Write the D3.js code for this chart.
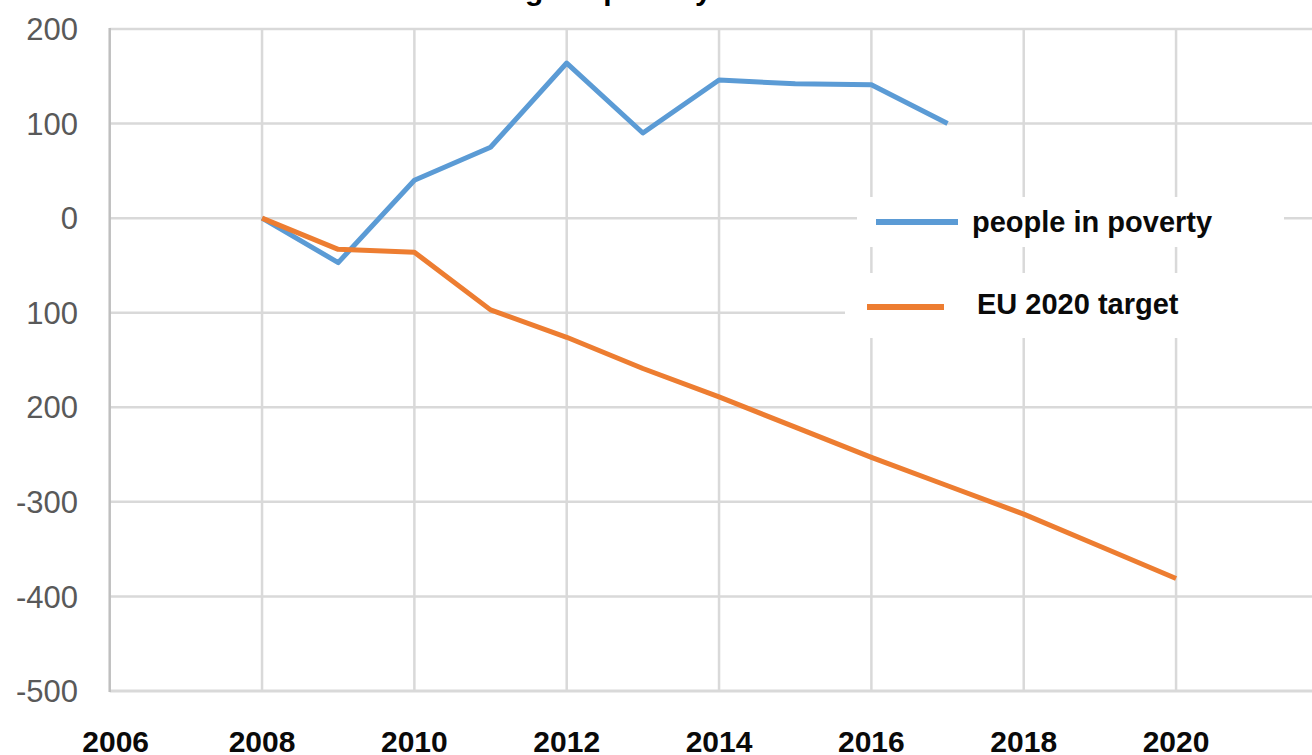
<!DOCTYPE html>
<html>
<head>
<meta charset="utf-8">
<script src="https://cdn.jsdelivr.net/npm/d3@7"></script>
<style>
  html, body { margin: 0; padding: 0; background: #fff; overflow: hidden; }
  svg { display: block; font-family: "Liberation Sans", Arial, sans-serif; }
</style>
</head>
<body>
<svg id="chart"></svg>
<script>
// values (thousands, change vs 2008)
var povertyYears = [2008, 2009, 2010, 2011, 2012, 2013, 2014, 2015, 2016, 2017]
var povertyValues = [0, -47, 40, 75, 164, 90, 146, 142, 141, 100]

var targetYears = [2008, 2009, 2010, 2011, 2012, 2013, 2014, 2015, 2016, 2017, 2018, 2019, 2020]
var targetValues = [0, -33, -36, -97, -126, -159, -189, -221, -253, -283, -313, -347, -381]

var xTicks = [2006, 2008, 2010, 2012, 2014, 2016, 2018, 2020]
var yTicks = [200, 100, 0, -100, -200, -300, -400, -500]
// the minus sign is lost on two of the labels in the original
var yTickLabels = ["200", "100", "0", "100", "200", "-300", "-400", "-500"]

var seriesNames = ["people in poverty", "EU 2020 target"]
var seriesColors = ["#5B9BD5", "#ED7D31"]
var titleText = "Change in poverty"

var width = 1312, height = 755

var svg = d3.select("#chart")
    .attr("width", width)
    .attr("height", height)

// plot area runs past the right edge of the picture (to 2022)
var x = d3.scaleLinear().domain([2006, 2022]).range([109.7, 1328.4])
var y = d3.scaleLinear().domain([-500, 200]).range([691, 29])

// title, cut off at the top
svg.append("text")
    .attr("x", 450)
    .attr("y", 0)
    .style("font-size", "30px")
    .style("font-weight", "bold")
    .style("fill", "#000")
    .text(titleText)

// gridlines
svg.append("g")
    .selectAll("line")
    .data(yTicks.filter(function(d) { return d !== -500 }))
    .enter().append("line")
    .attr("x1", x(2006)).attr("x2", width)
    .attr("y1", function(d) { return y(d) })
    .attr("y2", function(d) { return y(d) })
    .style("stroke", "#D9D9D9")
    .style("stroke-width", 2.5)

svg.append("g")
    .selectAll("line")
    .data(xTicks.filter(function(d) { return d !== 2006 }))
    .enter().append("line")
    .attr("x1", function(d) { return x(d) })
    .attr("x2", function(d) { return x(d) })
    .attr("y1", y(200)).attr("y2", y(-500))
    .style("stroke", "#D9D9D9")
    .style("stroke-width", 2.5)

// axes lines
svg.append("line")
    .attr("x1", x(2006)).attr("x2", width)
    .attr("y1", y(-500)).attr("y2", y(-500))
    .style("stroke", "#D9D9D9")
    .style("stroke-width", 3)

svg.append("line")
    .attr("x1", x(2006)).attr("x2", x(2006))
    .attr("y1", y(200) - 1).attr("y2", y(-500) + 1)
    .style("stroke", "#BFBFBF")
    .style("stroke-width", 2.5)

// tick labels
svg.append("g")
    .selectAll("text")
    .data(yTicks)
    .enter().append("text")
    .attr("x", 78)
    .attr("y", function(d) { return y(d) })
    .attr("dy", "0.36em")
    .attr("text-anchor", "end")
    .style("font-size", "31px")
    .style("fill", "#595959")
    .text(function(d, i) { return yTickLabels[i] })

svg.append("g")
    .selectAll("text")
    .data(xTicks)
    .enter().append("text")
    .attr("x", function(d) { return x(d) + (d === 2006 ? 6 : 0) })
    .attr("y", 752)
    .attr("text-anchor", "middle")
    .style("font-size", "30px")
    .style("font-weight", "bold")
    .style("fill", "#0a0a0a")
    .text(function(d) { return d })

// legend boxes hide the gridlines behind them
var legend = [
    { name: seriesNames[0], color: seriesColors[0], box: [857, 197, 427, 50], line: [876, 958], ly: 222, tx: 972, ty: 232 },
    { name: seriesNames[1], color: seriesColors[1], box: [845, 273, 467, 65], line: [867, 944], ly: 307, tx: 977, ty: 314 }
]

var lg = svg.append("g").selectAll("g").data(legend).enter().append("g")
lg.append("rect")
    .attr("x", function(d) { return d.box[0] })
    .attr("y", function(d) { return d.box[1] })
    .attr("width", function(d) { return d.box[2] })
    .attr("height", function(d) { return d.box[3] })
    .style("fill", "#fff")
lg.append("line")
    .attr("x1", function(d) { return d.line[0] })
    .attr("x2", function(d) { return d.line[1] })
    .attr("y1", function(d) { return d.ly })
    .attr("y2", function(d) { return d.ly })
    .style("stroke", function(d) { return d.color })
    .style("stroke-width", 6)
lg.append("text")
    .attr("x", function(d) { return d.tx })
    .attr("y", function(d) { return d.ty })
    .style("font-size", "29px")
    .style("font-weight", "bold")
    .style("fill", "#0a0a0a")
    .text(function(d) { return d.name })

// series
var line = d3.line()
    .x(function(d) { return x(d[0]) })
    .y(function(d) { return y(d[1]) })

svg.append("path")
    .datum(d3.zip(povertyYears, povertyValues))
    .attr("d", line)
    .style("fill", "none")
    .style("stroke", seriesColors[0])
    .style("stroke-width", 5)
    .style("stroke-linejoin", "round")

svg.append("path")
    .datum(d3.zip(targetYears, targetValues))
    .attr("d", line)
    .style("fill", "none")
    .style("stroke", seriesColors[1])
    .style("stroke-width", 5)
    .style("stroke-linejoin", "round")
</script>
</body>
</html>
